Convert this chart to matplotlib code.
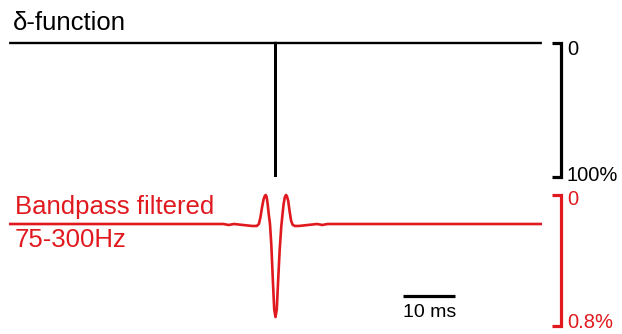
import matplotlib
matplotlib.use("Agg")
import matplotlib.pyplot as plt

plt.rcParams['font.family'] = ['Liberation Sans', 'DejaVu Sans']

# ---- data ----
# delta function (% of full scale), time in ms
delta_t = [-51.0, -0.001, 0.0, 0.001, 51.0]
delta_v = [0.0, 0.0, -100.0, 0.0, 0.0]

# bandpass filtered (75-300 Hz) response (% of full scale), time in ms
bp_t = [-51.0, -10.0, -9.0, -8.0, -4.5, -3.6, -3.2, -2.9, -2.6, -2.3, -2.05,
        -1.88, -1.7, -1.5, -1.3, -1.06, -0.8, -0.5, -0.25, 0.0, 0.25, 0.5,
        0.8, 1.1, 1.35, 1.55, 1.8, 2.02, 2.2, 2.45, 2.7, 3.0, 3.3, 3.7, 4.5,
        8.0, 9.0, 10.0, 51.0]
bp_v = [0.0, 0.0, -0.006, 0.0, -0.012, -0.012, 0.0, 0.04, 0.1, 0.15, 0.172,
        0.177, 0.165, 0.12, 0.06, 0.0, -0.13, -0.35, -0.52, -0.568, -0.52,
        -0.35, -0.16, -0.02, 0.06, 0.12, 0.165, 0.177, 0.17, 0.14, 0.08, 0.02,
        -0.005, -0.012, -0.012, 0.0, -0.006, 0.0, 0.0]

delta_scale = 100.0   # %
bp_scale = 0.8        # %
time_bar = 10.0       # ms

black = '#000000'
red = '#e0191f'

fig = plt.figure(figsize=(6.22, 3.34), dpi=100)

# pixel-based layout helpers
px_per_ms = 5.2
x0_px = 275.5
xlim = (-x0_px / px_per_ms, (622 - x0_px) / px_per_ms)

def t_of(px):
    return (px - x0_px) / px_per_ms

# top axis (delta)
ax1 = fig.add_axes([0, 0, 1, 1])
k1 = 1.34; base1 = 43.0
ax1.set_xlim(*xlim)
ax1.set_ylim(-(334 - base1) / k1, base1 / k1)
ax1.axis('off')

# bottom axis (bandpass)
ax2 = fig.add_axes([0, 0, 1, 1])
k2 = 163.75; base2 = 224.0
ax2.set_xlim(*xlim)
ax2.set_ylim(-(334 - base2) / k2, base2 / k2)
ax2.axis('off')

ax1.plot(delta_t, delta_v, color=black, lw=1.7, solid_joinstyle='miter')
ax2.plot(bp_t, bp_v, color=red, lw=1.9, solid_joinstyle='round')

# scale brackets
bx = t_of(561)
tick = t_of(552)
ax1.plot([tick, bx, bx, tick], [0, 0, -delta_scale, -delta_scale],
         color=black, lw=2.3, solid_joinstyle='miter', solid_capstyle='butt')
top2 = max(bp_v)
ax2.plot([tick, bx, bx, tick], [top2, top2, top2 - bp_scale, top2 - bp_scale],
         color=red, lw=2.3, solid_joinstyle='miter', solid_capstyle='butt')

fs = 14.5
lx = t_of(567)
ax1.text(lx, (base1 - 55) / k1, '0', fontsize=fs, color=black, va='baseline', ha='left')
ax1.text(lx, (base1 - 181) / k1, '100%', fontsize=fs, color=black, va='baseline', ha='left')
ax2.text(lx, (base2 - 205) / k2, '0', fontsize=fs, color=red, va='baseline', ha='left')
ax2.text(lx, (base2 - 328) / k2, '0.8%', fontsize=fs, color=red, va='baseline', ha='left')

# time scale bar
sx = t_of(403)
sy = (base2 - 296) / k2
ax2.plot([sx, sx + time_bar], [sy, sy], color=black, lw=2.3, solid_capstyle='butt')
ax2.text(sx, (base2 - 317) / k2, '10 ms', fontsize=14, color=black, va='baseline', ha='left')

# labels
fig.text(13 / 622, 1 - 30 / 334, 'δ-function', fontsize=18.5, color=black, va='baseline', ha='left')
fig.text(15 / 622, 1 - 214 / 334, 'Bandpass filtered', fontsize=18.5, color=red, va='baseline', ha='left')
fig.text(15 / 622, 1 - 247 / 334, '75-300Hz', fontsize=18.5, color=red, va='baseline', ha='left')

fig.savefig('out.png', dpi=100, facecolor='white')
